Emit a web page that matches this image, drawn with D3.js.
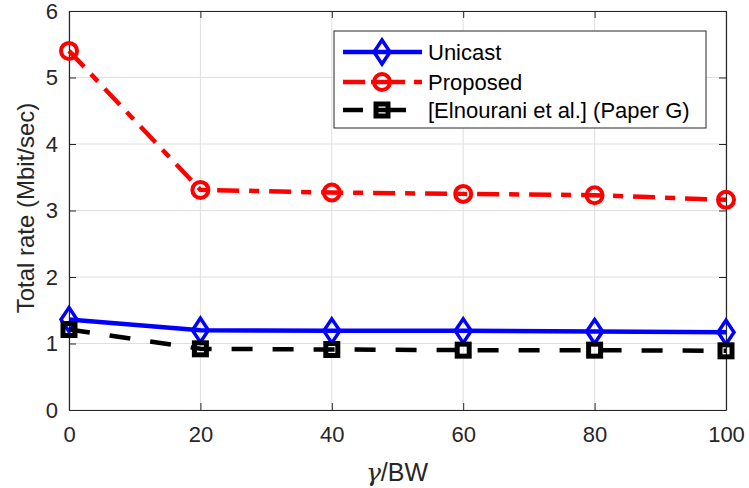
<!DOCTYPE html>
<html><head><meta charset="utf-8">
<script src="https://cdn.jsdelivr.net/npm/d3@7"></script>
<style>body{margin:0;background:#fff}svg{display:block;font-family:"Liberation Sans",Arial,sans-serif}</style>
</head><body><svg id="c" width="749" height="488"></svg>
<script>
const xValues = [0, 20, 40, 60, 80, 100];
const unicast = [1.36, 1.20, 1.19, 1.19, 1.18, 1.17];
const proposed = [5.40, 3.31, 3.27, 3.25, 3.23, 3.16];
const paperG = [1.21, 0.92, 0.91, 0.90, 0.90, 0.89];
const xTicks = [0, 20, 40, 60, 80, 100];
const yTicks = [0, 1, 2, 3, 4, 5, 6];
const seriesNames = ["Unicast", "Proposed", "[Elnourani et al.] (Paper G)"];

const svg = d3.select("#c");
const L = 69, R = 726, T = 11, B = 410;
const x = d3.scaleLinear().domain([0, 100]).range([L, R]);
const y = d3.scaleLinear().domain([0, 6]).range([B, T]);
const axisCol = "#262626";

// grid
const g = svg.append("g");
g.selectAll(".gx").data(xTicks).join("line")
  .attr("x1", d => x(d)).attr("x2", d => x(d)).attr("y1", T).attr("y2", B)
  .attr("stroke", "#dfdfdf").attr("stroke-width", 1);
g.selectAll(".gy").data(yTicks).join("line")
  .attr("y1", d => y(d)).attr("y2", d => y(d)).attr("x1", L).attr("x2", R)
  .attr("stroke", "#dfdfdf").attr("stroke-width", 1);

// axes
const fs = 22;
const fmt = d3.format("d");
const xa = svg.append("g").attr("transform", `translate(0,${B})`)
  .call(d3.axisBottom(x).tickValues(xTicks).tickFormat(fmt).tickSize(-7).tickPadding(16).tickSizeOuter(0));
const ya = svg.append("g").attr("transform", `translate(${L},0)`)
  .call(d3.axisLeft(y).tickValues(yTicks).tickFormat(fmt).tickSize(-7).tickPadding(11).tickSizeOuter(0));
const xt = svg.append("g").attr("transform", `translate(0,${T})`)
  .call(d3.axisTop(x).tickValues(xTicks).tickSize(-7).tickFormat("").tickSizeOuter(0));
const yr = svg.append("g").attr("transform", `translate(${R},0)`)
  .call(d3.axisRight(y).tickValues(yTicks).tickSize(-7).tickFormat("").tickSizeOuter(0));
[xa, ya, xt, yr].forEach(a => {
  a.selectAll("path").attr("stroke", axisCol).attr("stroke-width", 1.2);
  a.selectAll("line").attr("stroke", axisCol).attr("stroke-width", 1);
  a.selectAll("text").attr("fill", axisCol).attr("font-size", fs).attr("font-family", '"Liberation Sans",Arial,sans-serif');
});

// labels
svg.append("text").attr("transform", `translate(34,208) rotate(-90)`)
  .attr("text-anchor", "middle").attr("font-size", 24).attr("fill", axisCol)
  .text("Total rate (Mbit/sec)");
const xl = svg.append("text").attr("x", 397).attr("y", 481).attr("text-anchor", "middle")
  .attr("font-size", 25).attr("fill", axisCol);
xl.append("tspan").attr("font-family", '"DejaVu Serif","Liberation Serif",serif').attr("font-style", "italic").text("γ");
xl.append("tspan").text("/BW");

// series
const series = [
  {name: seriesNames[0], vals: unicast, color: "#0000ff", dash: null, marker: "diamond", ldash: null},
  {name: seriesNames[1], vals: proposed, color: "#ff0000", dash: "22,10,10,10", marker: "circle", ldash: "22,6,34,9,10"},
  {name: seriesNames[2], vals: paperG, color: "#000000", dash: "21,20", marker: "square", ldash: "20,12,31,100"}
];
const sw = 4.5;
function drawMarker(sel, type, color, cx, cy) {
  if (type === "circle") {
    sel.append("circle").attr("cx", cx).attr("cy", cy).attr("r", 8)
      .attr("fill", "none").attr("stroke", color).attr("stroke-width", 4);
  } else if (type === "diamond") {
    sel.append("path").attr("d", `M${cx},${cy-12}L${cx+8},${cy}L${cx},${cy+12}L${cx-8},${cy}Z`)
      .attr("fill", "none").attr("stroke", color).attr("stroke-width", 3.5);
  } else {
    sel.append("rect").attr("x", cx-6).attr("y", cy-6).attr("width", 12).attr("height", 12)
      .attr("fill", "none").attr("stroke", color).attr("stroke-width", 5);
  }
}
const line = d3.line().x((d, i) => x(xValues[i])).y(d => y(d));
series.forEach(s => {
  const gs = svg.append("g");
  gs.append("path").attr("d", line(s.vals)).attr("fill", "none")
    .attr("stroke", s.color).attr("stroke-width", sw)
    .attr("stroke-dasharray", s.dash);
  s.vals.forEach((v, i) => drawMarker(gs, s.marker, s.color, x(xValues[i]), y(v)));
});

// legend
const lg = svg.append("g");
lg.append("rect").attr("x", 334).attr("y", 31).attr("width", 372).attr("height", 97)
  .attr("fill", "#fff").attr("stroke", axisCol).attr("stroke-width", 1);
const ly = [52, 82, 110];
series.forEach((s, i) => {
  const yy = ly[i];
  lg.append("line").attr("x1", 343).attr("x2", 422).attr("y1", yy).attr("y2", yy)
    .attr("stroke", s.color).attr("stroke-width", sw)
    .attr("stroke-dasharray", s.ldash);
  drawMarker(lg, s.marker, s.color, 382, yy);
  lg.append("text").attr("x", 428).attr("y", yy + 8).attr("font-size", fs).attr("fill", "#000")
    .text(s.name);
});
</script></body></html>
